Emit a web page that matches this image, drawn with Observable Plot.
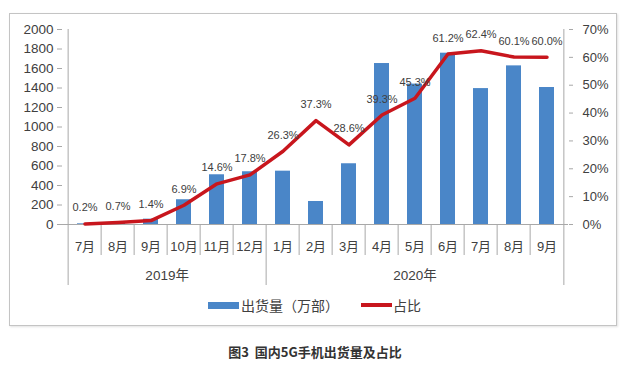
<!DOCTYPE html>
<html><head><meta charset="utf-8">
<script src="https://cdn.jsdelivr.net/npm/d3@7"></script>
<script src="https://cdn.jsdelivr.net/npm/@observablehq/plot@0.6"></script>
<style>
body{margin:0;background:#fff;}
#wrap{position:relative;width:630px;height:365px;overflow:hidden;font-family:"Liberation Sans","Noto Sans CJK SC",sans-serif;color:#404040;}
#chart{position:absolute;left:0;top:0;}
#border{position:absolute;left:9px;top:13px;width:606px;height:311px;border:1.5px solid #c4c4c4;box-shadow:1px 1px 2px #e2e2e2;pointer-events:none;}
.lg{position:absolute;top:296px;height:18px;font-size:14px;line-height:18px;font-family:"Noto Sans CJK SC",sans-serif;color:#404040;display:flex;align-items:center;}
.sw{display:inline-block;width:31px;height:7px;background:#4a86c8;margin-right:2px;}
.ln{display:inline-block;width:31px;height:3.5px;background:#c8161d;margin-right:1px;}
#caption{position:absolute;top:342px;left:0;width:630px;text-align:center;font-size:13px;font-weight:bold;color:#333;font-family:"Noto Sans CJK SC",sans-serif;}
</style></head>
<body>
<div id="wrap">
  <div id="chart"></div>
  <div id="border"></div>
  <div class="lg" style="left:208px"><span class="sw"></span>出货量（万部）</div>
  <div class="lg" style="left:361px"><span class="ln"></span>占比</div>
  <div id="caption">图3&nbsp; 国内5G手机出货量及占比</div>
</div>
<script>
const months = ["7月","8月","9月","10月","11月","12月","1月","2月","3月","4月","5月","6月","7月","8月","9月"];
const years = ["2019年","2019年","2019年","2019年","2019年","2019年","2020年","2020年","2020年","2020年","2020年","2020年","2020年","2020年","2020年"];
const shipments = [7, 22, 55, 254, 510, 541, 547, 236, 623, 1651, 1440, 1757, 1394, 1627, 1405];
const shares = [0.2, 0.7, 1.4, 6.9, 14.6, 17.8, 26.3, 37.3, 28.6, 39.3, 45.3, 61.2, 62.4, 60.1, 60.0];
const leftTicks = [0,200,400,600,800,1000,1200,1400,1600,1800,2000];
const rightTicks = [0,10,20,30,40,50,60,70];

const Y_MAX = 2000, P_MAX = 70;
const toY = p => p * Y_MAX / P_MAX;
const keys = months.map((m, i) => years[i] + m);
const rows = keys.map((k, i) => ({key: k, month: months[i], year: years[i], shipment: shipments[i], share: shares[i]}));

const W = 630, H = 290, mL = 62, mR = 62, mT = 29, mB = 66;
const step = (W - mL - mR) / keys.length;
const frameH = H - mT - mB;

// year groups
const yearList = [...new Set(years)];
const groups = yearList.map(y => {
  const i0 = years.indexOf(y), i1 = years.lastIndexOf(y);
  const mid = (i0 + i1) / 2, c = Math.ceil(mid);
  return {year: y, start: keys[i0], key: keys[c], dx: (mid - c) * step, first: i0 === 0};
});
const yearStarts = new Set(groups.map(g => g.start));
const monthSeps = rows.filter(r => !yearStarts.has(r.key));
const grey = "#a8a8a8";
const font = "'Liberation Sans','Noto Sans CJK SC',sans-serif";

const chart = Plot.plot({
  width: W, height: H,
  marginLeft: mL, marginRight: mR, marginTop: mT, marginBottom: mB,
  style: {fontFamily: font, color: "#404040", background: "transparent"},
  x: {type: "band", domain: keys, paddingInner: 0.56, paddingOuter: 0.28, axis: null},
  y: {domain: [0, Y_MAX], axis: null},
  marks: [
    Plot.barY(rows, {x: "key", y: "shipment", fill: "#4a86c8"}),
    Plot.ruleY([0], {stroke: grey, strokeWidth: 1}),
    Plot.ruleX(monthSeps, {x: "key", dx: -step / 2, insetTop: frameH, insetBottom: -31, stroke: grey}),
    Plot.ruleX(groups.filter(g => g.first), {x: "start", dx: -step / 2, insetTop: 0, insetBottom: -61, stroke: grey}),
    Plot.ruleX(groups.filter(g => !g.first), {x: "start", dx: -step / 2, insetTop: frameH, insetBottom: -61, stroke: grey}),
    Plot.ruleX([keys[keys.length - 1]], {x: d => d, dx: step / 2, insetTop: 0, insetBottom: -61, stroke: grey}),
    Plot.axisY({anchor: "left", ticks: leftTicks, tickSize: 5, tickPadding: 4, fontSize: 13.5, stroke: grey, label: null, tickFormat: d => String(d)}),
    Plot.axisY({anchor: "right", ticks: rightTicks.map(toY), tickSize: 4, tickPadding: 10, fontSize: 13, stroke: grey, label: null,
      tickFormat: d => Math.round(d * P_MAX / Y_MAX) + "%"}),
    Plot.line(rows, {x: "key", y: d => toY(d.share), stroke: "#c8161d", strokeWidth: 3.5, strokeLinejoin: "round", strokeLinecap: "round"}),
    Plot.text(rows, {x: "key", y: d => toY(d.share), text: d => d.share.toFixed(1) + "%", dy: -16, fontSize: 11, fill: "#404040"}),
    Plot.text(rows, {x: "key", text: "month", frameAnchor: "bottom", lineAnchor: "middle", dy: 22, fontSize: 13, fill: "#404040"}),
    ...groups.map(g => Plot.text([g], {x: "key", text: "year", dx: g.dx, frameAnchor: "bottom", lineAnchor: "middle", dy: 51, fontSize: 13.5, fill: "#404040"}))
  ]
});
document.getElementById("chart").appendChild(chart);
</script>
</body></html>
